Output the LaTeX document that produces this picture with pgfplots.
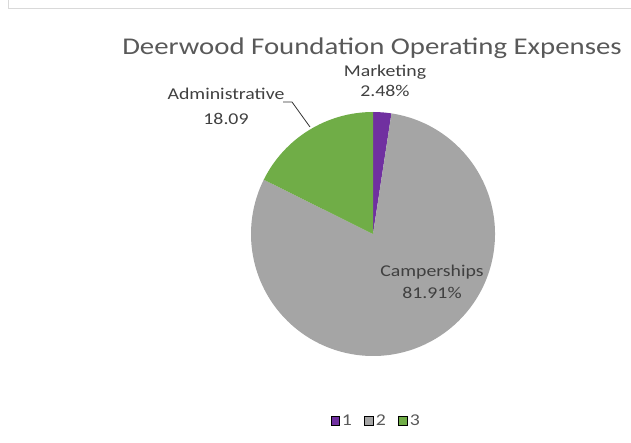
\documentclass[border=0pt]{standalone}
\usepackage{fontspec}
\setmainfont{Carlito}[FakeStretch=1.2]
\usepackage{pgfplots}
\usepackage{pgfplotstable}
\pgfplotsset{compat=1.18}

\definecolor{cMkt}{HTML}{7030A0}
\definecolor{cCamp}{HTML}{A5A5A5}
\definecolor{cAdm}{HTML}{70AD47}
\definecolor{txt}{HTML}{595959}
\definecolor{lbl}{HTML}{404040}

\pgfplotstableread{
label          value
Marketing      2.48
Camperships    81.91
Administrative 18.09
}\expenses

% slice angles, clockwise from 12 o'clock
\pgfplotstablegetelem{0}{value}\of\expenses \let\vA\pgfplotsretval
\pgfplotstablegetelem{1}{value}\of\expenses \let\vB\pgfplotsretval
\pgfplotstablegetelem{2}{value}\of\expenses \let\vC\pgfplotsretval
\pgfmathsetmacro\total{\vA+\vB+\vC}
\pgfmathsetmacro\angA{90}
\pgfmathsetmacro\angB{90-360*(\vA/\total)}
\pgfmathsetmacro\angC{\angB-360*(\vB/\total)}
\pgfmathsetmacro\angD{\angC-360*(\vC/\total)}

\begin{document}
\begin{tikzpicture}
\useasboundingbox (0bp,0bp) rectangle (631bp,443bp);
% chart frame
\draw[black!15, line width=1bp] (8bp,443bp) -- (8bp,434bp) -- (631bp,434bp);

\begin{axis}[
  hide axis, scale only axis,
  width=244bp, height=244bp,
  xmin=-1, xmax=1, ymin=-1, ymax=1,
  at={(373bp,209bp)}, anchor=origin,
  legend columns=3,
  legend style={draw=none, fill=none, at={(0.512,-0.266)}, anchor=center,
    text=txt,
    nodes={inner sep=1.5bp, font=\fontsize{16.5bp}{19bp}\selectfont},
    /tikz/every odd column/.append style={column sep=1bp},
    /tikz/every even column/.append style={column sep=11bp}},
  legend image code/.code={\fill[#1] (0bp,-4.5bp) rectangle (8.5bp,4.5bp);},
]
\fill[cMkt]  (axis cs:0,0) -- (axis cs:{cos(\angA)},{sin(\angA)}) arc[start angle=\angA, end angle=\angB, radius=122bp] -- cycle;
\fill[cCamp] (axis cs:0,0) -- (axis cs:{cos(\angB)},{sin(\angB)}) arc[start angle=\angB, end angle=\angC, radius=122bp] -- cycle;
\fill[cAdm]  (axis cs:0,0) -- (axis cs:{cos(\angC)},{sin(\angC)}) arc[start angle=\angC, end angle=\angD, radius=122bp] -- cycle;
\addlegendimage{fill=cMkt}\addlegendentry{1}
\addlegendimage{fill=cCamp}\addlegendentry{2}
\addlegendimage{fill=cAdm}\addlegendentry{3}
\end{axis}

% title
\node[text=txt, font=\fontsize{24bp}{28bp}\selectfont, anchor=base] at (372bp,388bp) {Deerwood Foundation Operating Expenses};
% data labels
\begin{scope}[every node/.style={text=lbl, font=\fontsize{16.5bp}{19bp}\selectfont, anchor=base}]
\node at (385bp,366bp) {Marketing};
\node at (385bp,346bp) {2.48\%};
\node at (226bp,343bp) {Administrative};
\node at (226bp,318bp) {18.09};
\node at (432bp,166bp) {Camperships};
\node at (432bp,144bp) {81.91\%};
\end{scope}
\draw[black!80, line width=0.8bp] (283bp,341bp) -- (292bp,341bp) -- (310bp,316bp);
\end{tikzpicture}
\end{document}
